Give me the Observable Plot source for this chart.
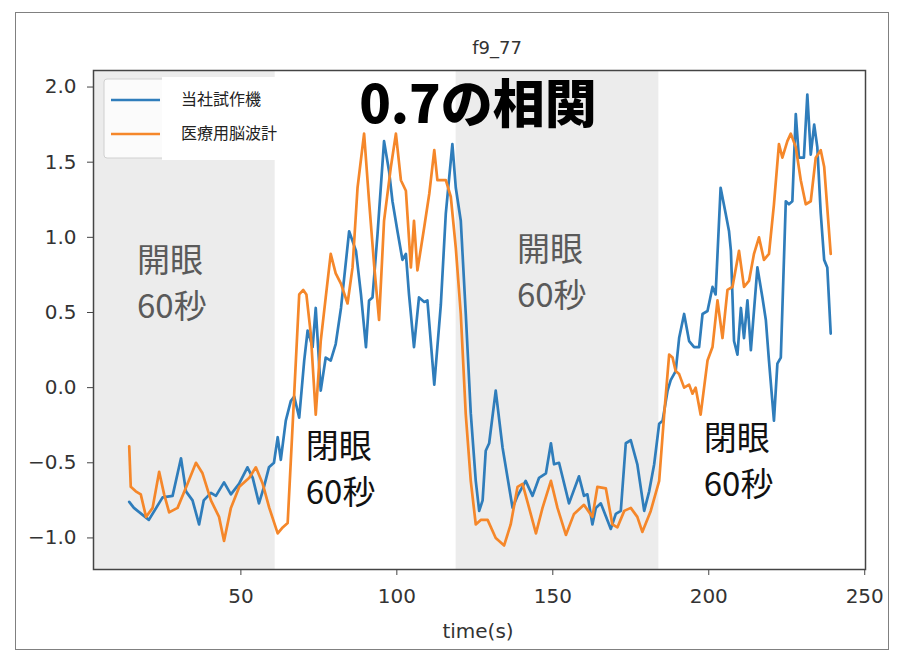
<!DOCTYPE html>
<html>
<head>
<meta charset="utf-8">
<script src="https://cdn.jsdelivr.net/npm/d3@7"></script>
<script src="https://cdn.jsdelivr.net/npm/@observablehq/plot@0.6"></script>
<style>
  body { margin: 0; background: #fff; }
  #wrap { position: relative; width: 897px; height: 656px; }
  #border { position: absolute; left: 15px; top: 12px; width: 874px; height: 638px;
            border: 1.5px solid #808080; box-sizing: border-box; pointer-events: none; }
  svg { display: block; }
</style>
</head>
<body>
<div id="wrap"><div id="border"></div></div>
<script>
// Series: in-house prototype (blue) vs. medical EEG (orange), time in seconds
const seriesNames = ["当社試作機", "医療用脳波計"];
const seriesColors = ["#2f7dbb", "#f5872a"];

const blueT = [14.2,15.7,20.5,24.9,28.1,30.8,32.4,34.5,36.6,38.1,40.4,42.0,44.6,46.8,49.4,52.1,53.8,55.8,57.4,59.0,60.6,61.8,62.8,64.4,66.0,67.1,68.7,70.3,71.4,73.0,74.0,75.6,77.2,78.8,80.4,82.1,84.7,86.9,88.5,90.1,91.1,92.2,93.8,95.9,97.5,98.6,100.2,101.8,102.9,103.9,105.5,107.1,108.8,109.8,112.0,114.1,115.7,117.8,118.9,120.5,122.1,123.7,125.3,126.4,127.5,128.5,129.6,131.7,133.9,135.5,137.1,138.7,141.3,143.5,145.6,147.8,149.4,150.4,152.0,155.2,158.4,160.0,161.1,162.7,163.8,165.4,168.6,170.2,171.8,173.4,175.0,177.1,179.3,180.9,182.5,184.1,185.2,186.8,187.8,189.4,190.5,192.1,193.7,195.3,196.9,198.0,199.6,201.2,202.2,203.8,205.4,206.5,207.1,208.1,209.2,210.3,211.3,212.4,213.5,215.6,217.2,218.3,219.3,220.9,222.0,223.1,224.7,225.7,226.8,227.9,228.9,230.5,231.6,232.7,233.8,234.8,235.9,237.0,238.0,239.1];
const blueV = [-0.76,-0.80,-0.88,-0.73,-0.72,-0.47,-0.69,-0.75,-0.91,-0.75,-0.70,-0.72,-0.63,-0.71,-0.64,-0.53,-0.60,-0.77,-0.66,-0.53,-0.50,-0.33,-0.48,-0.22,-0.09,-0.06,-0.20,0.18,0.38,0.27,0.53,-0.02,0.20,0.18,0.29,0.53,1.04,0.91,0.62,0.27,0.58,0.60,1.02,1.64,1.44,1.24,1.04,0.85,0.89,0.62,0.27,0.60,0.57,0.58,0.02,0.55,1.16,1.62,1.33,1.11,0.49,-0.17,-0.62,-0.82,-0.75,-0.42,-0.37,-0.02,-0.40,-0.60,-0.80,-0.72,-0.62,-0.72,-0.60,-0.57,-0.37,-0.51,-0.50,-0.77,-0.59,-0.72,-0.71,-0.91,-0.80,-0.77,-0.94,-0.84,-0.82,-0.37,-0.35,-0.51,-0.82,-0.69,-0.51,-0.24,-0.22,-0.02,0.05,0.11,0.33,0.49,0.31,0.27,0.27,0.49,0.51,0.67,0.62,1.33,1.16,1.04,0.91,0.31,0.22,0.53,0.33,0.58,0.25,0.80,0.60,0.45,0.18,-0.22,0.16,0.20,1.24,1.22,1.24,1.82,1.53,1.53,1.95,1.55,1.75,1.60,1.16,0.85,0.80,0.36];

const orangeT = [14.2,14.7,16.3,17.9,19.6,21.7,23.8,25.4,27.0,29.7,32.9,35.6,37.7,40.4,43.0,44.6,46.8,49.5,52.7,54.8,57.0,59.1,61.8,63.4,65.0,67.1,68.7,70.0,71.0,72.4,74.0,75.6,77.2,78.8,80.4,82.1,84.2,85.8,87.4,89.5,91.1,92.7,94.3,95.9,98.1,99.7,101.3,102.9,104.5,105.5,106.6,108.8,110.4,112.0,113.0,115.7,117.3,118.9,120.5,122.1,123.7,125.3,126.9,129.1,131.7,134.4,136.5,138.7,140.3,142.4,144.6,146.7,149.4,151.5,154.2,156.8,160.0,162.7,164.3,167.0,169.1,170.7,172.9,175.0,177.1,178.7,181.4,184.1,185.7,187.3,188.4,189.4,190.5,192.1,193.7,194.8,195.8,197.4,199.6,201.2,202.8,204.4,206.0,207.6,209.7,211.3,212.9,214.5,216.1,217.7,219.3,220.9,222.5,223.6,225.2,226.3,227.9,229.5,231.1,232.7,234.3,235.9,237.0,239.1];
const orangeV = [-0.39,-0.66,-0.69,-0.71,-0.86,-0.80,-0.56,-0.71,-0.83,-0.80,-0.64,-0.50,-0.57,-0.75,-0.86,-1.02,-0.80,-0.66,-0.60,-0.53,-0.64,-0.80,-0.97,-0.93,-0.90,-0.04,0.62,0.65,0.62,0.36,-0.18,0.31,0.60,0.89,0.76,0.69,0.56,0.80,1.33,1.69,1.24,0.82,0.45,1.11,1.47,1.69,1.38,1.31,0.80,1.11,0.78,1.07,1.29,1.58,1.38,1.38,1.27,0.93,0.49,-0.18,-0.62,-0.91,-0.88,-0.88,-1.00,-1.05,-0.91,-0.66,-0.64,-0.80,-0.97,-0.80,-0.62,-0.80,-0.98,-0.84,-0.78,-0.86,-0.66,-0.67,-0.91,-0.93,-0.82,-0.80,-0.86,-0.96,-0.82,-0.62,-0.18,0.22,0.20,0.11,0.09,0.00,0.02,-0.04,0.00,-0.18,0.18,0.27,0.58,0.33,0.65,0.67,0.91,0.67,0.71,0.89,1.00,0.85,0.89,1.22,1.62,1.53,1.64,1.69,1.60,1.38,1.22,1.24,1.53,1.58,1.47,0.89];

// Eyes-open intervals (shaded)
const openStart = [0, 119];
const openEnd = [61, 184];

// Axis ticks
const xTicks = [50, 100, 150, 200, 250];
const yTicks = [-1.0, -0.5, 0.0, 0.5, 1.0, 1.5, 2.0];

// Text annotations: each block is two lines, drawn as separate texts
const noteLine1 = ["開眼", "開眼", "閉眼", "閉眼"];
const noteLine2 = ["60秒", "60秒", "60秒", "60秒"];
const noteT = [16.7, 138.5, 70.8, 198.4];
const noteV1 = [0.838, 0.913, -0.397, -0.342];
const noteV2 = [0.532, 0.607, -0.703, -0.648];
const noteColor = ["#5a5a5a", "#5a5a5a", "#111111", "#111111"];

const headline = "0.7の相関";
const chartTitle = "f9_77";
const xLabel = "time(s)";

const blueRows = blueT.map((t, i) => ({t, v: blueV[i]}));
const orangeRows = orangeT.map((t, i) => ({t, v: orangeV[i]}));
const spans = openStart.map((s, i) => ({start: s, end: openEnd[i]}));
const notes = noteT.flatMap((t, i) => [
  {text: noteLine1[i], t, v: noteV1[i], color: noteColor[i]},
  {text: noteLine2[i], t, v: noteV2[i], color: noteColor[i]}
]);

const W = 897, H = 656;
const chart = Plot.plot({
  width: W, height: H,
  marginLeft: 93, marginRight: 32, marginTop: 70, marginBottom: 87,
  style: {fontFamily: "'DejaVu Sans'", fontSize: "20px", color: "#333", background: "transparent"},
  x: {domain: [2.75, 250.25]},
  y: {domain: [-1.21, 2.11]},
  marks: [
    Plot.rect(spans, {x1: "start", x2: "end", fill: "#ececec", clip: true}),
    Plot.line(blueRows, {x: "t", y: "v", stroke: seriesColors[0], strokeWidth: 2.7, strokeLinejoin: "round"}),
    Plot.line(orangeRows, {x: "t", y: "v", stroke: seriesColors[1], strokeWidth: 2.7, strokeLinejoin: "round"}),
    Plot.axisX({ticks: xTicks, tickFormat: d => String(d), tickSize: 6, tickPadding: 13, fontSize: 20,
      label: null, stroke: "#444", fill: "#333"}),
    Plot.axisY({ticks: yTicks, tickFormat: d3.format(".1f"), tickSize: 6, tickPadding: 11, fontSize: 20,
      label: null, stroke: "#444", fill: "#333"}),
    Plot.frame({stroke: "#444", strokeWidth: 1.5}),
    Plot.text(notes, {x: "t", y: "v", text: "text", fill: "color", textAnchor: "start", lineAnchor: "middle",
      fontSize: 33, fontFamily: "'Noto Sans CJK JP'"}),
    Plot.text([headline], {x: 126, y: 1.87, text: d => d, fill: "#000", fontSize: 52, fontWeight: 900,
      fontFamily: "'Noto Sans CJK JP'", lineAnchor: "middle"})
  ]
});
document.getElementById("wrap").prepend(chart);

// Title, x label and legend
const svg = d3.select(chart);
svg.append("text").attr("x", 497).attr("y", 49).attr("text-anchor", "middle").attr("dominant-baseline", "middle")
  .attr("font-size", 18).attr("fill", "#333").text(chartTitle);
svg.append("text").attr("x", 478).attr("y", 632).attr("text-anchor", "middle").attr("dominant-baseline", "middle")
  .attr("font-size", 20).attr("fill", "#333").text(xLabel);

const lg = svg.append("g");
lg.append("rect").attr("x", 104).attr("y", 79).attr("width", 172).attr("height", 79).attr("rx", 3)
  .attr("fill", "#fff").attr("fill-opacity", 0.8).attr("stroke", "#d0d0d0");
lg.append("rect").attr("x", 162).attr("y", 77).attr("width", 116).attr("height", 83).attr("fill", "#fff");
seriesNames.forEach((name, i) => {
  const y = 100 + i * 34;
  lg.append("line").attr("x1", 111).attr("x2", 160).attr("y1", y).attr("y2", y)
    .attr("stroke", seriesColors[i]).attr("stroke-width", 2.7);
  lg.append("text").attr("x", 181).attr("y", y + 1).attr("text-anchor", "start").attr("dominant-baseline", "middle")
    .attr("font-family", "'Noto Sans CJK JP'").attr("font-size", 16).attr("fill", "#222").text(name);
});
</script>
</body>
</html>
